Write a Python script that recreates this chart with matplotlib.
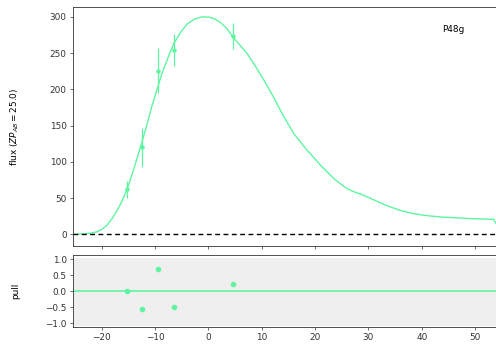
import matplotlib
matplotlib.use("Agg")
import matplotlib.pyplot as plt

# model curve
model_t = [-25.4, -23.4, -22.0, -20.9, -20.0, -19.0, -18.1, -17.2, -16.4, -15.6, -14.8, -14.0,
           -13.1, -12.2, -11.4, -10.6, -9.6, -8.8, -8.0, -7.2, -6.5, -5.2, -4.0, -2.6, -1.2, 0.2,
           1.2, 2.3, 3.5, 4.6, 5.9, 7.25, 8.8, 10.4, 12.0, 13.5, 14.8, 16.0, 17.3, 18.5,
           19.8, 21.0, 22.3, 23.5, 24.8, 26.0, 27.2, 28.5, 30.0, 31.5, 33.5, 36.0, 38.5,
           41.0, 43.5, 46.0, 48.5, 51.0, 53.5, 53.8, 54.1]
model_f = [0.0, 0.8, 1.8, 3.6, 7.0, 12.8, 21.5, 32.0, 43.0, 56.0, 72.0, 90.0,
           112.0, 134.0, 155.0, 177.0, 201.0, 220.0, 236.0, 251.0, 263.0, 279.0, 290.0, 297.0, 300.0, 299.5,
           297.0, 292.0, 283.5, 272.0, 261.0, 249.5, 232.0, 212.7, 192.0, 171.0, 154.0, 139.0,
           127.0, 116.0, 105.5, 95.5, 86.0, 77.0, 69.5, 63.0, 59.0, 55.6, 51.0, 46.0, 39.5,
           33.0, 28.5, 25.8, 24.0, 23.0, 22.0, 21.3, 20.7, 16.0, 14.0]

# observations
obs_t = [-15.3, -12.4, -9.5, -6.5, 4.6]
obs_f = [62.0, 120.0, 226.0, 254.0, 274.0]
obs_err = [12.0, 27.0, 31.0, 22.0, 18.0]
pull = [0.0, -0.55, 0.70, -0.48, 0.24]

band_label = "P48g"
xticks = [-20, -10, 0, 10, 20, 30, 40, 50]
yticks_main = [0, 50, 100, 150, 200, 250, 300]
yticks_pull = [-1.0, -0.5, 0.0, 0.5, 1.0]

color = "#5ff5a0"
fs = 6.4
plt.rcParams.update({
    "font.size": fs,
    "axes.linewidth": 0.6,
    "xtick.major.size": 2.2,
    "ytick.major.size": 2.2,
    "xtick.major.width": 0.5,
    "ytick.major.width": 0.5,
    "xtick.major.pad": 2.2,
    "ytick.major.pad": 2.2,
    "axes.edgecolor": "#333333",
    "xtick.color": "#333333",
    "ytick.color": "#333333",
})

fig = plt.figure(figsize=(4.96, 3.44), dpi=100)
ax = fig.add_axes([0.1466, 0.2849, 0.8554, 0.6956])
axp = fig.add_axes([0.1466, 0.0485, 0.8554, 0.2093])

ax.plot(model_t, model_f, color=color, lw=1.0)
ax.errorbar(obs_t, obs_f, yerr=obs_err, fmt="o", color=color, ms=2.2, lw=0.9,
            elinewidth=0.9, capsize=0)
ax.axhline(0, color="black", ls="--", lw=1.0, dashes=(3.5, 2.5))
ax.set_xlim(-25.45, 54.1)
ax.set_ylim(-16, 314)
ax.set_xticks(xticks)
ax.set_xticklabels([])
ax.set_yticks(yticks_main)
ax.set_ylabel(r"flux ($ZP_{AB}=25.0$)")
ax.yaxis.set_label_coords(-0.123, 0.5)
ax.text(43.9, 282, band_label, va="center", ha="left", fontsize=fs)

axp.axhspan(-1.09, 1.05, color="#efefef", lw=0, zorder=0)
axp.axhline(0, color=color, lw=1.2)
axp.plot(obs_t, pull, "o", color=color, ms=3.0)
axp.set_xlim(-25.45, 54.1)
axp.set_ylim(-1.12, 1.12)
axp.set_xticks(xticks)
axp.set_yticks(yticks_pull)
axp.set_ylabel("pull")
axp.yaxis.set_label_coords(-0.123, 0.5)

fig.savefig("out.png", dpi=100)
